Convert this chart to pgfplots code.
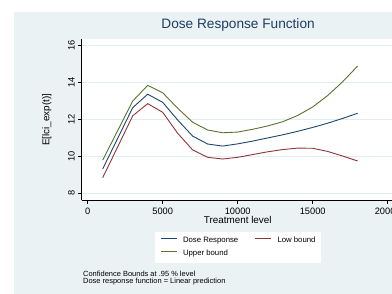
\documentclass[border=0pt]{standalone}
\usepackage{fontspec}
\setmainfont{Liberation Sans}
\usepackage{pgfplots}
\pgfplotsset{compat=1.18}
\definecolor{panelbg}{HTML}{EAF2F3}
\definecolor{gridcol}{HTML}{E3EDEF}
\definecolor{sblue}{HTML}{1A476F}
\definecolor{sred}{HTML}{90353B}
\definecolor{sgreen}{HTML}{55752F}
\definecolor{titlecol}{HTML}{1E3D63}
\begin{document}
\begin{tikzpicture}
\useasboundingbox (0bp,0bp) rectangle (392bp,-294bp);
\fill[white] (0bp,0bp) rectangle (392bp,-294bp);
\fill[panelbg] (14bp,-12bp) rectangle (392bp,-294bp);
\begin{axis}[
  at={(81.7bp,-200bp)}, anchor=south west,
  scale only axis, width=310.3bp, height=160.7bp,
  xmin=-400, xmax=20287, ymin=7.637, ymax=16.347,
  axis background/.style={fill=white},
  axis lines*=left,
  axis line style={black, line width=0.8bp},
  xtick={0,5000,10000,15000,20000},
  ytick={8,10,12,14,16},
  scaled x ticks=false,
  /pgf/number format/set thousands separator={},
  /pgf/number format/assume math mode=true,
  tick align=outside,
  major tick length=3.5bp,
  tick style={black, line width=0.6bp},
  ymajorgrids, grid style={gridcol, line width=0.7bp},
  ticklabel style={font=\fontsize{9.3}{10}\selectfont},
  xticklabel style={yshift=-0.8bp},
  yticklabel style={rotate=90, anchor=south},
  title={Dose Response Function},
  title style={at={(axis description cs:0.504,1.027)}, anchor=base, font=\fontsize{13.7}{15}\selectfont, color=titlecol},
  xlabel={Treatment level},
  xlabel style={at={(axis description cs:0.503,-0.148)}, anchor=base, font=\fontsize{9.9}{11}\selectfont},
  ylabel={E[lci\_exp(t)]},
  ylabel style={at={(axis description cs:-0.112,0.5)}, anchor=center, rotate=0, font=\fontsize{9.9}{11}\selectfont},
  legend columns=2,
  legend cell align=left,
  legend image code/.code={\draw[#1] (0bp,2.6bp) -- (16bp,2.6bp);},
  legend style={at={(axis description cs:0.236,-0.199)}, anchor=north west,
    fill=white, draw=none, inner xsep=5bp, inner ysep=5bp,
    font=\fontsize{7.8}{9}\selectfont,
    nodes={inner sep=0pt, text height=5.8bp, text depth=1.6bp},
    row sep=5.6bp,
    /tikz/every odd column/.append style={column sep=6bp},
    /tikz/every even column/.append style={column sep=16.3bp}},
]
\addplot[sblue, line width=0.9bp] coordinates {
(1000,9.32) (2000,10.98) (3000,12.64) (4000,13.37) (5000,12.93) (6000,11.97)
(7000,11.10) (8000,10.67) (9000,10.56) (10000,10.68) (11000,10.83) (12000,11.00)
(13000,11.17) (14000,11.36) (15000,11.57) (16000,11.80) (17000,12.06) (18000,12.34)};
\addlegendentry{Dose Response}
\addplot[sred, line width=0.9bp] coordinates {
(1000,8.85) (2000,10.52) (3000,12.20) (4000,12.86) (5000,12.39) (6000,11.25)
(7000,10.35) (8000,9.95) (9000,9.86) (10000,9.95) (11000,10.10) (12000,10.25)
(13000,10.37) (14000,10.45) (15000,10.44) (16000,10.27) (17000,10.02) (18000,9.75)};
\addlegendentry{Low bound}
\addplot[sgreen, line width=0.9bp] coordinates {
(1000,9.80) (2000,11.40) (3000,13.00) (4000,13.85) (5000,13.45) (6000,12.61)
(7000,11.85) (8000,11.43) (9000,11.28) (10000,11.32) (11000,11.47) (12000,11.65)
(13000,11.88) (14000,12.22) (15000,12.68) (16000,13.30) (17000,14.05) (18000,14.90)};
\addlegendentry{Upper bound}
\end{axis}
\node[anchor=base west, inner sep=0pt, font=\fontsize{7.5}{8}\selectfont] at (83bp,-276bp) {Confidence Bounds at .95 \% level};
\node[anchor=base west, inner sep=0pt, font=\fontsize{7.5}{8}\selectfont] at (83bp,-283.3bp) {Dose response function = Linear prediction};
\end{tikzpicture}
\end{document}
